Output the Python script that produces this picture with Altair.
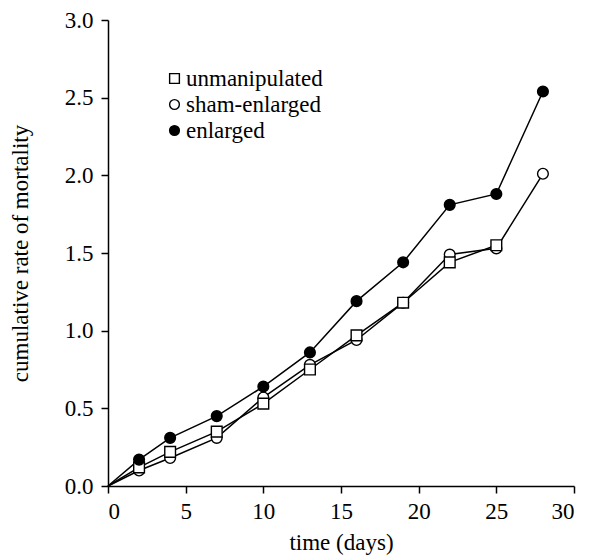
import altair as alt
import pandas as pd

days = [0, 2, 4, 7, 10, 13, 16, 19, 22, 25, 28]
unmanipulated = [0.0, 0.12, 0.22, 0.35, 0.53, 0.75, 0.97, 1.18, 1.44, 1.55]
sham_enlarged = [0.0, 0.10, 0.18, 0.31, 0.57, 0.78, 0.94, 1.18, 1.49, 1.53, 2.01]
enlarged = [0.0, 0.17, 0.31, 0.45, 0.64, 0.86, 1.19, 1.44, 1.81, 1.88, 2.54]

groups = ["unmanipulated", "sham-enlarged", "enlarged"]
draw_order = {"sham-enlarged": 0, "unmanipulated": 1, "enlarged": 2}

rows = []
for name, vals in [("sham-enlarged", sham_enlarged), ("unmanipulated", unmanipulated), ("enlarged", enlarged)]:
    for t, v in zip(days, vals):
        rows.append({"t": t, "rate": v, "group": name, "order": draw_order[name]})
df = pd.DataFrame(rows)

FONT = "Liberation Serif"
FS = 23

x = alt.X("t:Q", scale=alt.Scale(domain=[0, 30], nice=False),
          axis=alt.Axis(title="time (days)", values=[0, 5, 10, 15, 20, 25, 30],
                        labelPadding=7, titlePadding=8))
y = alt.Y("rate:Q", scale=alt.Scale(domain=[0, 3], nice=False),
          axis=alt.Axis(title="cumulative rate of mortality", format=".1f",
                        values=[0, 0.5, 1.0, 1.5, 2.0, 2.5, 3.0],
                        labelPadding=8, titlePadding=32))

lines = alt.Chart(df).mark_line(color="black", strokeWidth=1.5).encode(
    x=x, y=y, detail="group:N", order="t:Q"
)

leg = dict(title=None, orient="none", legendX=55, legendY=47,
           labelFont=FONT, labelFontSize=FS, labelColor="black",
           symbolSize=95, symbolStrokeWidth=1.4, rowPadding=2, labelOffset=0)

points = alt.Chart(df).transform_filter("datum.t > 0").mark_point(
    filled=True, strokeWidth=1.4, size=115, opacity=1
).encode(
    x=x, y=y,
    shape=alt.Shape("group:N", scale=alt.Scale(domain=groups, range=["square", "circle", "circle"]),
                    legend=alt.Legend(**leg)),
    fill=alt.Fill("group:N", scale=alt.Scale(domain=groups, range=["white", "white", "black"]),
                  legend=alt.Legend(**leg)),
    stroke=alt.Stroke("group:N", scale=alt.Scale(domain=groups, range=["black", "black", "black"]),
                      legend=alt.Legend(**leg)),
    order="order:Q"
)

chart = alt.layer(lines, points).properties(
    width=466, height=466,
    autosize=alt.AutoSizeParams(type="none"),
    padding={"left": 100, "top": 12, "right": 7, "bottom": 74},
).configure_view(stroke=None).configure_axis(
    labelFont=FONT, titleFont=FONT, labelFontSize=FS, titleFontSize=FS,
    titleFontWeight="normal", labelColor="black", titleColor="black",
    domainColor="black", tickColor="black", domainWidth=1.5, tickWidth=1.5,
    tickSize=7, grid=False
)

chart.save("out.html", embed_options={"renderer": "svg", "actions": False})
